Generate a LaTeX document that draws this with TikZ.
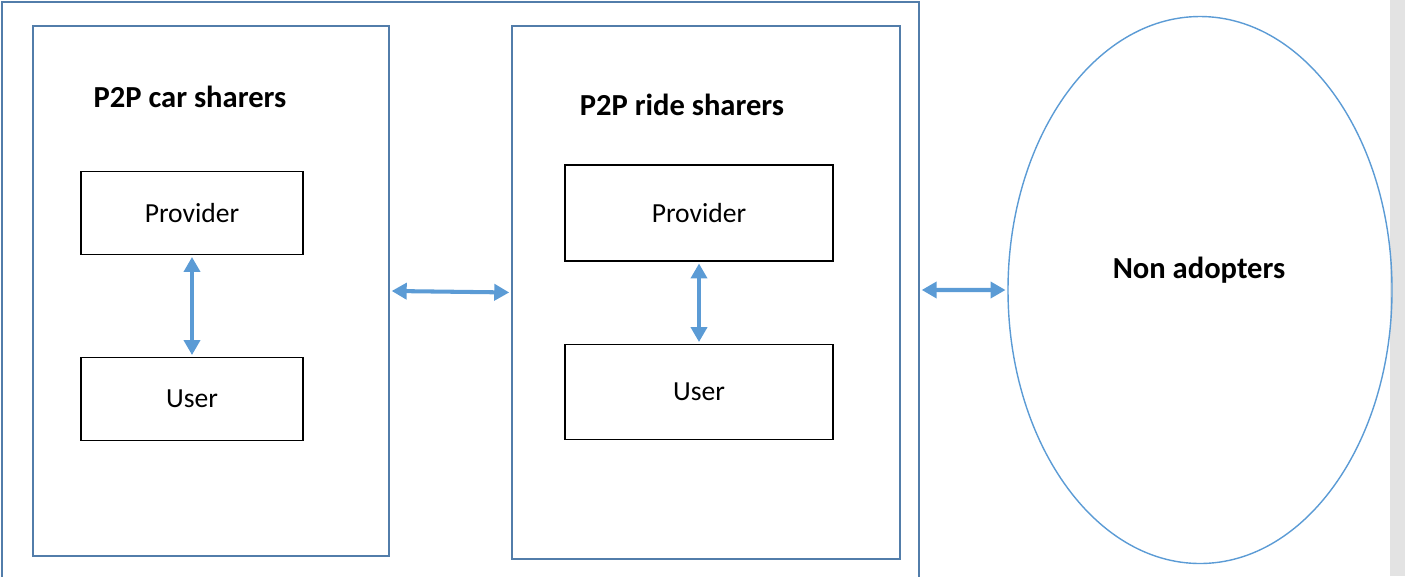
\documentclass[tikz,border=0pt]{standalone}
\usepackage{fontspec}
\setmainfont{Carlito}
\usetikzlibrary{arrows.meta,positioning,shapes.geometric}
\definecolor{framecol}{RGB}{82,125,170}
\definecolor{linkcol}{RGB}{91,155,213}

\begin{document}
\begin{tikzpicture}[x=0.02cm, y=-0.02cm,
  panel/.style={draw=framecol, line width=1.1pt, rectangle, inner sep=0pt, anchor=north west},
  rolebox/.style={draw=black, line width=0.8pt, rectangle, inner sep=0pt, font=\fontsize{15.7}{18}\selectfont},
  heading/.style={font=\bfseries\fontsize{17.4}{20}\selectfont},
  link/.style={draw=linkcol, line width=2.3pt, {Triangle[length=0.3cm,width=0.32cm]}-{Triangle[length=0.3cm,width=0.32cm]}}]
  \useasboundingbox (0,0) rectangle (1405,576);
  \clip (0,0) rectangle (1405,576);
  % grey strip on the right
  \fill[black!11] (1390,0) rectangle (1405,576);
  % outer frame (open at the bottom)
  \node[panel, minimum width=917*0.02cm, minimum height=576*0.02cm] (adopters) at (1,1) {};
  % two panels
  \node[panel, minimum width=356*0.02cm, minimum height=530*0.02cm] (carpanel) at (32,25) {};
  \node[panel, minimum width=388*0.02cm, minimum height=533*0.02cm] (ridepanel) at (511,25) {};
  \node[heading] (carhead) at (190,97) {P2P car sharers};
  \node[heading] (ridehead) at (682,105) {P2P ride sharers};
  % provider / user boxes
  \node[rolebox, minimum width=222*0.02cm, minimum height=83*0.02cm] (carprov) at (192,213) {Provider};
  \node[rolebox, minimum width=222*0.02cm, minimum height=83*0.02cm] (caruser) at (192,399) {User};
  \node[rolebox, minimum width=268*0.02cm, minimum height=96*0.02cm] (rideprov) at (699,213) {Provider};
  \node[rolebox, minimum width=268*0.02cm, minimum height=95*0.02cm] (rideuser) at (699,392) {User};
  % non adopters
  \node[ellipse, draw=linkcol, line width=0.8pt, minimum width=384*0.02cm, minimum height=547*0.02cm, inner sep=0pt] (nonadopt) at (1200,290) {};
  \node[heading] (nonhead) at (1199,270) {Non adopters};
  % links
  \draw[link] ([yshift=-1pt]carprov.south) -- ([yshift=1pt]caruser.north);
  \draw[link] ([yshift=-1pt]rideprov.south) -- ([yshift=1pt]rideuser.north);
  \draw[link] ([xshift=1pt]carpanel.east) -- ([xshift=-1pt]ridepanel.west);
  \draw[link] ([xshift=1pt]adopters.east) -- ([xshift=-1pt]nonadopt.west);
\end{tikzpicture}
\end{document}
